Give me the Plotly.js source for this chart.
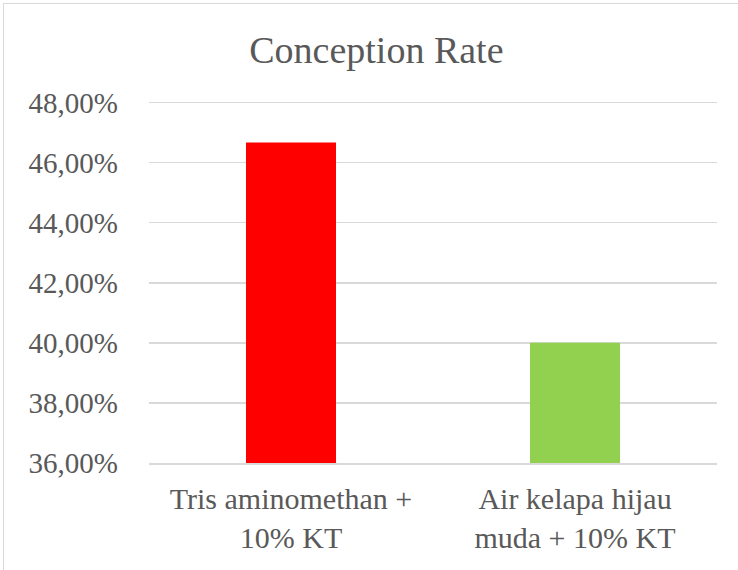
<!DOCTYPE html>
<html>
<head>
<meta charset="utf-8">
<script src="https://cdn.plot.ly/plotly-3.0.1.min.js"></script>
<style>
  html, body { margin: 0; padding: 0; overflow: hidden; background: #fff; }
  #chart { width: 738px; height: 570px; position: absolute; left: 0; top: 0; }
  #frame { position: absolute; left: 3px; top: 3px; width: 800px; height: 700px;
           border: 1.5px solid #d9d9d9; pointer-events: none; }
</style>
</head>
<body>
<div id="chart"></div>
<div id="frame"></div>
<script>
const categories = ["Tris aminomethan +<br>10% KT", "Air kelapa hijau<br>muda + 10% KT"];
const values = [0.4667, 0.40];
const barColors = ["#ff0000", "#92d050"];
const titleText = "Conception Rate";

const font = "Liberation Serif, Times New Roman, serif";
const textColor = "#595959";

Plotly.newPlot("chart", [{
  type: "bar",
  x: categories,
  y: values,
  marker: { color: barColors },
  hoverinfo: "none"
}], {
  width: 738, height: 570,
  margin: { l: 149, r: 21, t: 101, b: 107 },
  paper_bgcolor: "rgba(0,0,0,0)",
  plot_bgcolor: "#ffffff",
  separators: ",.",
  bargap: 0.683,
  showlegend: false,
  font: { family: font, color: textColor },
  title: {
    text: titleText,
    font: { family: font, size: 38, color: textColor },
    x: 0.51, xanchor: "center",
    y: 0.912, yanchor: "middle"
  },
  xaxis: {
    type: "category",
    showgrid: false,
    showline: true, linecolor: "#d9d9d9", linewidth: 1.5,
    ticks: "",
    tickfont: { family: font, size: 30, color: textColor },
    ticklabelstandoff: 8
  },
  yaxis: {
    range: [0.36, 0.4805],
    dtick: 0.02,
    tick0: 0.36,
    tickformat: ".2%",
    showgrid: true, gridcolor: "#d9d9d9", gridwidth: 1.5,
    zeroline: false, showline: false,
    ticks: "",
    tickfont: { family: font, size: 29, color: textColor },
    ticklabelstandoff: 30
  }
}, { displayModeBar: false, staticPlot: true });
</script>
</body>
</html>
